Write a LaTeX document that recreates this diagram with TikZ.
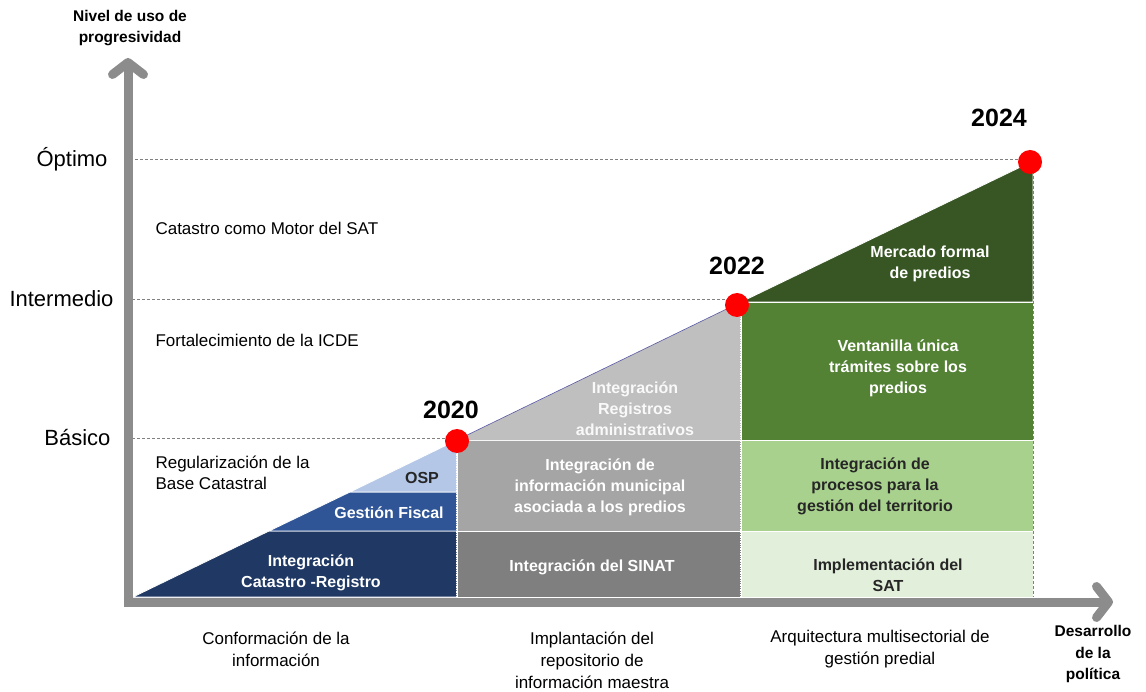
\documentclass[tikz,border=0pt]{standalone}
\usepackage{fontspec}
\setmainfont{Liberation Sans}
\usetikzlibrary{arrows.meta,positioning}
\definecolor{navyband}{HTML}{1F3864}
\definecolor{fiscalband}{HTML}{2F5597}
\definecolor{ospband}{HTML}{B4C7E7}
\definecolor{sinatband}{HTML}{7F7F7F}
\definecolor{municband}{HTML}{A5A5A5}
\definecolor{regisband}{HTML}{BFBFBF}
\definecolor{implband}{HTML}{E2EFDA}
\definecolor{procband}{HTML}{A9D18E}
\definecolor{ventband}{HTML}{548235}
\definecolor{mercband}{HTML}{375623}
\definecolor{axisgray}{HTML}{8C8C8C}
\tikzset{
  band/.style={draw=white,line width=0.8pt},
  bandtext/.style={font=\bfseries\fontsize{16}{21}\selectfont,align=center,text=white},
  darktext/.style={bandtext,text=black!85},
  level/.style={font=\fontsize{22}{26}\selectfont,anchor=east},
  note/.style={font=\fontsize{17}{21}\selectfont,align=left,anchor=west},
  stage/.style={font=\fontsize{17}{22}\selectfont,align=center},
  year/.style={font=\bfseries\fontsize{25}{28}\selectfont},
  milestone/.style={circle,fill=red,minimum size=24pt,inner sep=0pt},
  guide/.style={gray,densely dashed,line width=0.6pt},
  axis/.style={axisgray,line width=9pt,-{Straight Barb[length=12pt,width=31pt,round]}}
}
\begin{document}
\begin{tikzpicture}[x=1pt,y=-1pt]
\useasboundingbox (0,0) rectangle (1146,692);

% bands of the first stage
\fill[navyband,band] (133,597) -- (269,531) -- (457,531) -- (457,597) -- cycle;
\fill[fiscalband,band] (269,531) -- (350,492) -- (457,492) -- (457,531) -- cycle;
\fill[ospband,band] (350,492) -- (457,440) -- (457,492) -- cycle;
% second stage
\fill[sinatband,band] (457,531) rectangle (741,597);
\fill[municband,band] (457,440) rectangle (741,531);
\fill[regisband] (457,440) -- (741,302) -- (741,440) -- cycle;
\draw[blue!30!gray,line width=0.6pt] (457,440) -- (741,302);
% third stage
\fill[implband,band] (741,531) rectangle (1033,597);
\fill[procband,band] (741,440) rectangle (1033,531);
\fill[ventband,band] (741,302) rectangle (1033,440);
\fill[mercband,band] (741,302) -- (1033,161) -- (1033,302) -- cycle;

\draw[white,densely dotted,line width=1.4pt] (457,440) -- (457,597);
\draw[white,densely dotted,line width=1.4pt] (741,306) -- (741,597);
\draw[guide] (1033,161) -- (1033,597);

% axes
\coordinate (O) at (128,602);
\coordinate (ytip) at (128,58);
\coordinate (xtip) at (1113,602);

\node[milestone] (d2020) at (457,441) {};
\node[milestone] (d2022) at (737,305) {};
\node[milestone] (d2024) at (1030,162) {};

\node[level] (basico) at (114,438) {Básico};
\node[level] (interm) at (117,299) {Intermedio};
\node[level] (optimo) at (111,159) {Óptimo};

\draw[guide] (d2020.west |- basico) -- (O |- basico);
\draw[guide] (d2022.west |- interm) -- (O |- interm);
\draw[guide] (d2024.west |- optimo) -- (O |- optimo);

\draw[axis] ([yshift=4.5pt]O) -- (ytip);
\draw[axis] ([xshift=-4.5pt]O) -- (xtip);

\node[year] (y2020) at (451,410) {2020};
\node[year] (y2022) at (737,266) {2022};
\node[year] (y2024) at (999,118) {2024};

\node[font=\bfseries\fontsize{15.5}{21}\selectfont,align=center] (ylab) at (130,28) {Nivel de uso de\\progresividad};
\node[font=\bfseries\fontsize{15.5}{21.5}\selectfont,align=center] (xlab) at (1093,654) {Desarrollo\\de la\\política};

\node[note] (motor) at (152,228) {Catastro como Motor del SAT};
\node[note] (icde) at (152,340) {Fortalecimiento de la ICDE};
\node[note] (base) at (152,473) {Regularización de la\\Base Catastral};

\node[bandtext] (catreg) at (311,573) {Integración\\Catastro -Registro};
\node[bandtext] (fiscal) at (389,513) {Gestión Fiscal};
\node[darktext] (osp) at (422,478) {OSP};
\node[bandtext] (sinat) at (592,567) {Integración del SINAT};
\node[bandtext] (munic) at (600,487) {Integración de\\información municipal\\asociada a los predios};
\node[bandtext,text=white!95!gray] (regis) at (635,409) {Integración\\Registros\\administrativos};
\node[darktext] (impl) at (888,575) {Implementación del\\SAT};
\node[darktext] (proc) at (875,486) {Integración de\\procesos para la\\gestión del territorio};
\node[bandtext] (vent) at (898,368) {Ventanilla única\\trámites sobre los\\predios};
\node[bandtext] (merc) at (930,264) {Mercado formal\\de predios};

\node[stage] (conf) at (276,649) {Conformación de la\\información};
\node[stage] (impla) at (592,660) {Implantación del\\repositorio de\\información maestra};
\node[stage] (arq) at (880,649) {Arquitectura multisectorial de\\gestión predial};
\end{tikzpicture}
\end{document}
